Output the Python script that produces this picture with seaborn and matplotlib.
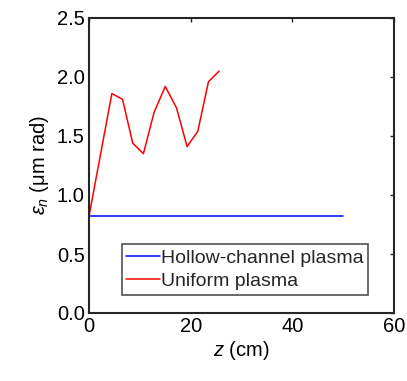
import matplotlib
matplotlib.use("Agg")
import matplotlib.pyplot as plt
import seaborn as sns
import pandas as pd

hollow_z = [0, 50]
hollow_eps = [0.82, 0.82]
uniform_z = [0, 4.5, 6.6, 8.6, 10.7, 12.8, 15.0, 17.2, 19.3, 21.4, 23.5, 25.6]
uniform_eps = [0.82, 1.86, 1.81, 1.44, 1.35, 1.70, 1.92, 1.74, 1.41, 1.54, 1.96, 2.05]
xticks = [0, 20, 40, 60]
yticks = [0.0, 0.5, 1.0, 1.5, 2.0, 2.5]

sns.set_theme(style="white")
plt.rcParams['font.family'] = ['Liberation Sans', 'DejaVu Sans']
plt.rcParams['mathtext.fontset'] = 'custom'
plt.rcParams['mathtext.rm'] = 'Liberation Sans'
plt.rcParams['mathtext.it'] = 'Liberation Sans:italic'

df = pd.concat([
    pd.DataFrame({"z": hollow_z, "eps": hollow_eps, "series": "Hollow-channel plasma"}),
    pd.DataFrame({"z": uniform_z, "eps": uniform_eps, "series": "Uniform plasma"}),
])

fig = plt.figure(figsize=(4.07, 3.81), dpi=100)
ax = fig.add_axes([89/407, 1-313/381, (394-89)/407, (313-18)/381])
sns.lineplot(data=df, x="z", y="eps", hue="series",
             palette={"Hollow-channel plasma": "#0000ff", "Uniform plasma": "#ff0000"},
             linewidth=1.1, ax=ax, sort=False, estimator=None)
ax.set_xlim(0, 60)
ax.set_ylim(0, 2.5)
ax.set_xticks(xticks)
ax.set_xticklabels([str(t) for t in xticks])
ax.set_yticks(yticks)
ax.set_yticklabels([f"{t:.1f}" for t in yticks])
ax.tick_params(direction='in', length=3, width=1, colors='#262626', labelsize=14.5,
               top=True, right=True, pad=3)
for t in ax.get_xticklabels() + ax.get_yticklabels():
    t.set_color('black')
for s in ax.spines.values():
    s.set_color('#262626')
    s.set_linewidth(1.5)
ax.set_xlabel("$z$ (cm)", fontsize=14.5, color='black', labelpad=2)
ax.set_ylabel(r"$\epsilon_n$ (μm rad)", fontsize=14.5, color='black', labelpad=4)
leg = ax.legend(loc='lower right', bbox_to_anchor=((368-89)/305, (313-295)/295),
                fontsize=14, frameon=True, fancybox=False, handlelength=1.7,
                handletextpad=0.05, borderpad=0.25, labelspacing=0.3, borderaxespad=0)
leg.get_frame().set_edgecolor('#262626')
leg.get_frame().set_linewidth(1.2)
fig.savefig("out.png", dpi=100)
